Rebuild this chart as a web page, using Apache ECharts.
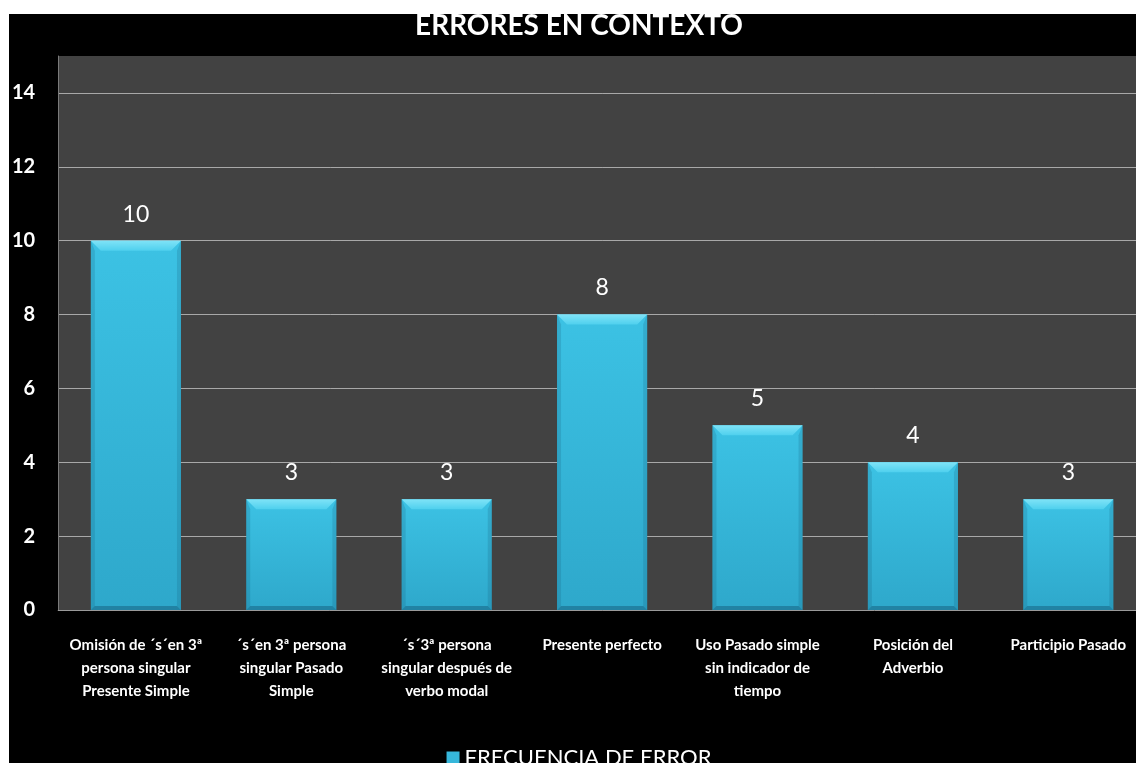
<!DOCTYPE html>
<html>
<head>
<meta charset="utf-8">
<title>Errores en contexto</title>
<script src="https://cdn.jsdelivr.net/npm/echarts@6/dist/echarts.min.js"></script>
<style>
  html, body { margin: 0; padding: 0; background: #ffffff; overflow: hidden; width: 1136px; height: 763px; }
  #chart { position: absolute; left: 9px; top: 14px; width: 1140px; height: 770px; background: #000000; }
</style>
</head>
<body>
<div id="chart"></div>
<script>
// Chart text
const chartTitle = 'ERRORES EN CONTEXTO';
const seriesName = 'FRECUENCIA DE ERROR';

// Error categories (x axis)
const categories = [
  'Omisión de ´s´en 3ª\npersona singular\nPresente Simple',
  '´s´en 3ª persona\nsingular Pasado\nSimple',
  '´s´3ª persona\nsingular después de\nverbo modal',
  'Presente perfecto',
  'Uso Pasado simple\nsin indicador de\ntiempo',
  'Posición del\nAdverbio',
  'Participio Pasado'
];

// Number of errors per category
const frequencies = [10, 3, 3, 8, 5, 4, 3];

// Y axis scale
const yMin = 0;
const yMax = 15;
const yStep = 2;

const FONT = 'Lato, "Open Sans", sans-serif';
const BAR_COLOR = '#36b7db';

// Bevelled bar, placed with the axes' own coordinate mapping
function renderBar(params, api) {
  const cat = api.value(0);
  const val = api.value(1);
  const top = api.coord([cat, val]);
  const base = api.coord([cat, 0]);
  const bw = api.size([1, 0])[0] * 0.58;
  const x0 = top[0] - bw / 2;
  const x1 = top[0] + bw / 2;
  const y0 = top[1];
  const y1 = base[1];
  const b = 10;   // top bevel depth
  const s = 4;    // side / bottom bevel depth
  return {
    type: 'group',
    children: [
      {
        type: 'rect',
        shape: { x: x0, y: y0, width: bw, height: y1 - y0 },
        style: {
          fill: new echarts.graphic.LinearGradient(0, 0, 0, 1, [
            { offset: 0, color: '#3cc2e4' },
            { offset: 1, color: '#2ea8cb' }
          ])
        }
      },
      {
        type: 'polygon',
        shape: { points: [[x0, y0], [x0 + s, y0 + b], [x0 + s, y1 - s], [x0, y1]] },
        style: { fill: 'rgba(20,90,120,0.2)' }
      },
      {
        type: 'polygon',
        shape: { points: [[x1, y0], [x1 - s, y0 + b], [x1 - s, y1 - s], [x1, y1]] },
        style: { fill: 'rgba(20,90,120,0.2)' }
      },
      {
        type: 'polygon',
        shape: { points: [[x0, y1], [x0 + s, y1 - s], [x1 - s, y1 - s], [x1, y1]] },
        style: { fill: 'rgba(10,60,90,0.35)' }
      },
      {
        type: 'polygon',
        shape: { points: [[x0, y0], [x1, y0], [x1 - b, y0 + b], [x0 + b, y0 + b]] },
        style: {
          fill: new echarts.graphic.LinearGradient(0, 0, 0, 1, [
            { offset: 0, color: '#7fe3f7' },
            { offset: 1, color: '#4fd0ee' }
          ])
        }
      },
      {
        type: 'text',
        x: top[0],
        y: y0 - 15,
        style: {
          text: String(val),
          fill: '#ffffff',
          font: '23px ' + FONT,
          align: 'center',
          verticalAlign: 'bottom'
        }
      }
    ]
  };
}

const chart = echarts.init(document.getElementById('chart'), null, { renderer: 'canvas' });

chart.setOption({
  backgroundColor: '#000000',
  animation: false,
  title: {
    text: chartTitle,
    left: 'center',
    top: -7,
    textStyle: { color: '#ffffff', fontFamily: FONT, fontWeight: 'bold', fontSize: 28 }
  },
  legend: {
    data: [{ name: seriesName, icon: 'rect' }],
    bottom: 10,
    left: 'center',
    itemWidth: 13,
    itemHeight: 13,
    itemGap: 6,
    textStyle: { color: '#ffffff', fontFamily: FONT, fontSize: 22 }
  },
  grid: {
    show: true,
    left: 47,
    top: 42,
    right: 3,
    height: 554,
    backgroundColor: '#424242',
    borderWidth: 0,
    containLabel: false
  },
  xAxis: {
    type: 'category',
    data: categories,
    axisLine: { show: true, lineStyle: { color: '#9a9a9a', width: 1 } },
    axisTick: { show: false },
    axisLabel: {
      interval: 0,
      margin: 24,
      color: '#ffffff',
      fontFamily: FONT,
      fontWeight: 'bold',
      fontSize: 15,
      lineHeight: 23
    }
  },
  yAxis: {
    type: 'value',
    min: yMin,
    max: yMax,
    interval: yStep,
    axisLine: { show: true, lineStyle: { color: '#7a7a7a', width: 1 } },
    axisTick: { show: false },
    splitLine: { show: true, showMinLine: false, showMaxLine: false, lineStyle: { color: '#a8a8a8', width: 1 } },
    axisLabel: {
      showMaxLabel: false,
      margin: 23,
      color: '#ffffff',
      fontFamily: FONT,
      fontWeight: 'bold',
      fontSize: 20
    }
  },
  series: [{
    name: seriesName,
    type: 'custom',
    renderItem: renderBar,
    itemStyle: { color: BAR_COLOR },
    encode: { x: 0, y: 1 },
    data: frequencies.map((v, i) => [i, v])
  }]
});
</script>
</body>
</html>
